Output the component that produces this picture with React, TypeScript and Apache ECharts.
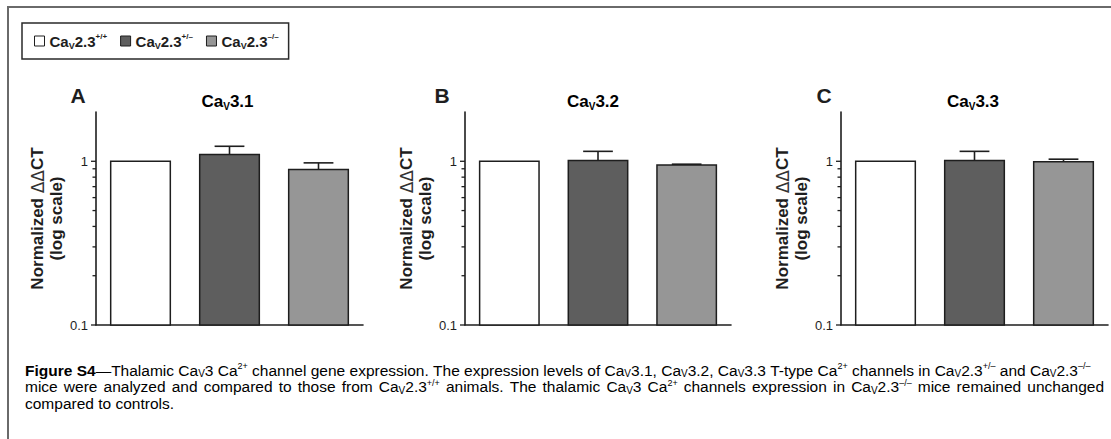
import React, { useEffect, useRef } from 'react';
import * as echarts from 'echarts';

// Genotype groups (legend entries / x categories)
const genotypes = ['CaV2.3+/+', 'CaV2.3+/-', 'CaV2.3-/-'];
const genotypeLabels = [
  '{m|Ca}{s|V}{m|2.3}{p|+/+}',
  '{m|Ca}{s|V}{m|2.3}{p|+/–}',
  '{m|Ca}{s|V}{m|2.3}{p|–/–}',
];
const genotypeColors = ['#ffffff', '#5e5e5e', '#969696'];

// Panels: letter + channel subtype
const panelLetters = ['A', 'B', 'C'];
const channelSubtypes = ['3.1', '3.2', '3.3'];

// Normalized ΔΔCT means and upper error-bar ends (mean + SEM)
const cav31Mean = [1.0, 1.1, 0.89];
const cav31Upper = [1.0, 1.235, 0.978];
const cav32Mean = [1.0, 1.01, 0.95];
const cav32Upper = [1.0, 1.15, 0.96];
const cav33Mean = [1.0, 1.01, 0.995];
const cav33Upper = [1.0, 1.15, 1.03];

const panelMeans = [cav31Mean, cav32Mean, cav33Mean];
const panelUppers = [cav31Upper, cav32Upper, cav33Upper];

// Log-axis ticks
const yMin = 0.1;
const yMax = 2;
const majorTicks = [0.1, 1];
const minorTicks = [0.2, 0.3, 0.4, 0.5, 0.6, 0.7, 0.8, 0.9];

// Caption, as [style, text] runs per line (b bold, t plain, s subscript, p superscript)
const captionLines: [string, string][][] = [
  [
    ['b', 'Figure S4'], ['t', '—Thalamic Ca'], ['s', 'V'], ['t', '3 Ca'], ['p', '2+'],
    ['t', ' channel gene expression. The expression levels of Ca'], ['s', 'V'], ['t', '3.1, Ca'], ['s', 'V'],
    ['t', '3.2, Ca'], ['s', 'V'], ['t', '3.3 T-type Ca'], ['p', '2+'], ['t', ' channels in Ca'], ['s', 'V'],
    ['t', '2.3'], ['p', '+/–'], ['t', ' and Ca'], ['s', 'V'], ['t', '2.3'], ['p', '–/–'],
  ],
  [
    ['t', 'mice were analyzed and compared to those from Ca'], ['s', 'V'], ['t', '2.3'], ['p', '+/+'],
    ['t', ' animals. The thalamic Ca'], ['s', 'V'], ['t', '3 Ca'], ['p', '2+'], ['t', ' channels expression in Ca'],
    ['s', 'V'], ['t', '2.3'], ['p', '–/–'], ['t', ' mice remained unchanged'],
  ],
  [['t', 'compared to controls.']],
];

// Layout
const gridLefts = [96, 465, 841];
const gridWidths = [267, 266, 267];
const gridTop = 112;
const gridHeight = 213;
const titleCenters = [227.5, 593, 973];
const letterCenters = [78, 442, 824];
const captionY = [370, 386.5, 403];
const captionFontSize = 15.5;
const captionSpaceWidths = [4.31, 6.1, 4.31];

const FONT = "'Liberation Sans', Arial, Helvetica, sans-serif";
const DELTA_FONT = "'DejaVu Sans', 'Liberation Sans', sans-serif";
const INK = '#1e1e1e';

const isMajor = (v: number) => majorTicks.some((m) => Math.abs(m - v) < 1e-9);

// Build a rich-text string; word spaces become fixed-width tokens so a line can be justified
function richLine(runs: [string, string][], spaceStyle: string) {
  return runs
    .map(([style, text]) =>
      text
        .split(' ')
        .map((w) => (w ? `{${style}|${w}}` : ''))
        .join(`{${spaceStyle}| }`)
    )
    .join('');
}

function buildOption() {
  const grids: any[] = [];
  const xAxes: any[] = [];
  const yAxes: any[] = [];
  const series: any[] = [];

  panelLetters.forEach((_, p) => {
    grids.push({ left: gridLefts[p], top: gridTop, width: gridWidths[p], height: gridHeight, containLabel: false });
    xAxes.push({
      type: 'category',
      gridIndex: p,
      data: genotypes,
      axisLine: { show: true, lineStyle: { color: INK, width: 1.6 } },
      axisTick: { show: false },
      axisLabel: { show: false },
      splitLine: { show: false },
    });
    yAxes.push({
      type: 'log',
      logBase: 10,
      gridIndex: p,
      min: yMin,
      max: yMax,
      name: 'Normalized {d|ΔΔ}CT\n(log scale)',
      nameLocation: 'middle',
      nameGap: 25,
      nameTextStyle: {
        fontFamily: FONT,
        fontSize: 17,
        fontWeight: 'bold',
        color: INK,
        lineHeight: 19,
        rich: { d: { fontFamily: DELTA_FONT, fontSize: 17, fontWeight: 'normal', color: '#333', lineHeight: 19 } },
      },
      axisLine: { show: true, lineStyle: { color: INK, width: 1.6 } },
      axisTick: { show: false },
      minorTick: { show: false },
      splitLine: { show: false },
      axisLabel: {
        margin: 8,
        fontFamily: FONT,
        fontSize: 13,
        color: INK,
        formatter: (v: number) => (isMajor(v) ? String(v) : ''),
      },
    });

    // bars with upward error bars, one series per genotype
    genotypes.forEach((g, i) => {
      series.push({
        type: 'custom',
        name: g,
        xAxisIndex: p,
        yAxisIndex: p,
        itemStyle: { color: genotypeColors[i], borderColor: INK, borderWidth: 1.5 },
        data: [[i, panelMeans[p][i], panelUppers[p][i]]],
        renderItem: (params: any, api: any) => {
          const cs = params.coordSys;
          const band = cs.width / genotypes.length;
          const w = band * 0.67;
          const top = api.coord([api.value(0), api.value(1)]);
          const errTop = api.coord([api.value(0), api.value(2)]);
          const baseY = cs.y + cs.height;
          const children: any[] = [];
          if (api.value(2) > api.value(1)) {
            children.push({
              type: 'line',
              shape: { x1: top[0], y1: top[1], x2: top[0], y2: errTop[1] },
              style: { stroke: INK, lineWidth: 1.6 },
            });
            children.push({
              type: 'line',
              shape: { x1: top[0] - w / 4, y1: errTop[1], x2: top[0] + w / 4, y2: errTop[1] },
              style: { stroke: INK, lineWidth: 1.6 },
            });
          }
          children.push({
            type: 'rect',
            shape: { x: top[0] - w / 2, y: top[1], width: w, height: baseY - top[1] },
            style: { fill: api.visual('color'), stroke: INK, lineWidth: 1.5 },
          });
          return { type: 'group', children };
        },
      });
    });

    // log-axis tick marks (major decades and minor 2..9 steps)
    series.push({
      type: 'custom',
      xAxisIndex: p,
      yAxisIndex: p,
      silent: true,
      data: [...majorTicks, ...minorTicks].map((v) => [0, v]),
      renderItem: (params: any, api: any) => {
        const cs = params.coordSys;
        const v = api.value(1);
        const pt = api.coord([0, v]);
        const len = isMajor(v) ? 5 : 3.5;
        return {
          type: 'line',
          shape: { x1: cs.x - len, y1: pt[1], x2: cs.x, y2: pt[1] },
          style: { stroke: INK, lineWidth: 1.3 },
        };
      },
    });
  });

  const subStyle = (size: number) => ({
    fontFamily: FONT,
    fontSize: size,
    fontWeight: 'bold',
    color: INK,
    verticalAlign: 'bottom',
    lineHeight: size,
  });
  const supStyle = (size: number) => ({
    fontFamily: FONT,
    fontSize: size,
    fontWeight: 'bold',
    color: INK,
    verticalAlign: 'top',
    lineHeight: size,
  });

  const graphics: any[] = [
    {
      type: 'rect',
      shape: { x: 8, y: 7, width: 1200, height: 600 },
      style: { fill: 'none', stroke: '#6a6a6a', lineWidth: 2 },
      silent: true,
    },
  ];

  panelLetters.forEach((L, p) => {
    graphics.push({
      type: 'text',
      x: letterCenters[p],
      y: 95,
      style: { text: L, font: `bold 21px ${FONT}`, fill: INK, align: 'center', verticalAlign: 'middle' },
    });
    graphics.push({
      type: 'text',
      x: titleCenters[p],
      y: 101,
      style: {
        text: `{m|Ca}{s|V}{m|${channelSubtypes[p]}}`,
        align: 'center',
        verticalAlign: 'middle',
        rich: {
          m: { fontFamily: FONT, fontSize: 17, fontWeight: 'bold', color: INK, lineHeight: 20 },
          s: subStyle(10),
        },
      },
    });
  });

  // figure caption
  captionLines.forEach((runs, k) => {
    const capRich = {
      b: { fontFamily: FONT, fontSize: captionFontSize, fontWeight: 'bold', color: INK, lineHeight: 17 },
      t: { fontFamily: FONT, fontSize: captionFontSize, color: INK, lineHeight: 17 },
      s: { fontFamily: FONT, fontSize: 10, color: INK, verticalAlign: 'bottom', lineHeight: 10 },
      p: { fontFamily: FONT, fontSize: 9, color: INK, verticalAlign: 'top', lineHeight: 9 },
      w: { fontFamily: FONT, fontSize: captionFontSize, color: INK, lineHeight: 17, width: captionSpaceWidths[k] },
    };
    graphics.push({
      type: 'text',
      x: 25,
      y: captionY[k],
      style: { text: richLine(runs, 'w'), align: 'left', verticalAlign: 'middle', rich: capRich },
    });
  });

  return {
    animation: false,
    backgroundColor: '#ffffff',
    legend: {
      left: 22,
      top: 23,
      orient: 'horizontal',
      data: genotypes,
      selectedMode: false,
      icon: 'rect',
      itemWidth: 10,
      itemHeight: 10,
      itemGap: 13,
      padding: [9, 10, 9, 12],
      borderColor: '#2a2a2a',
      borderWidth: 1.5,
      itemStyle: { borderColor: INK, borderWidth: 1 },
      formatter: (name: string) => genotypeLabels[genotypes.indexOf(name)],
      textStyle: {
        fontFamily: FONT,
        fontSize: 15,
        fontWeight: 'bold',
        color: INK,
        rich: {
          m: { fontFamily: FONT, fontSize: 15, fontWeight: 'bold', color: INK, lineHeight: 18 },
          s: subStyle(9),
          p: supStyle(8),
        },
      },
    },
    grid: grids,
    xAxis: xAxes,
    yAxis: yAxes,
    series,
    graphic: graphics,
  };
}

export default function App() {
  const ref = useRef<HTMLDivElement>(null);
  useEffect(() => {
    const chart = echarts.init(ref.current as HTMLDivElement, null, { renderer: 'svg' });
    chart.setOption(buildOption() as any);
    return () => chart.dispose();
  }, []);
  return (
    <div
      ref={ref}
      style={{ position: 'fixed', left: 0, top: 0, width: 1111, height: 439, background: '#ffffff' }}
    />
  );
}
